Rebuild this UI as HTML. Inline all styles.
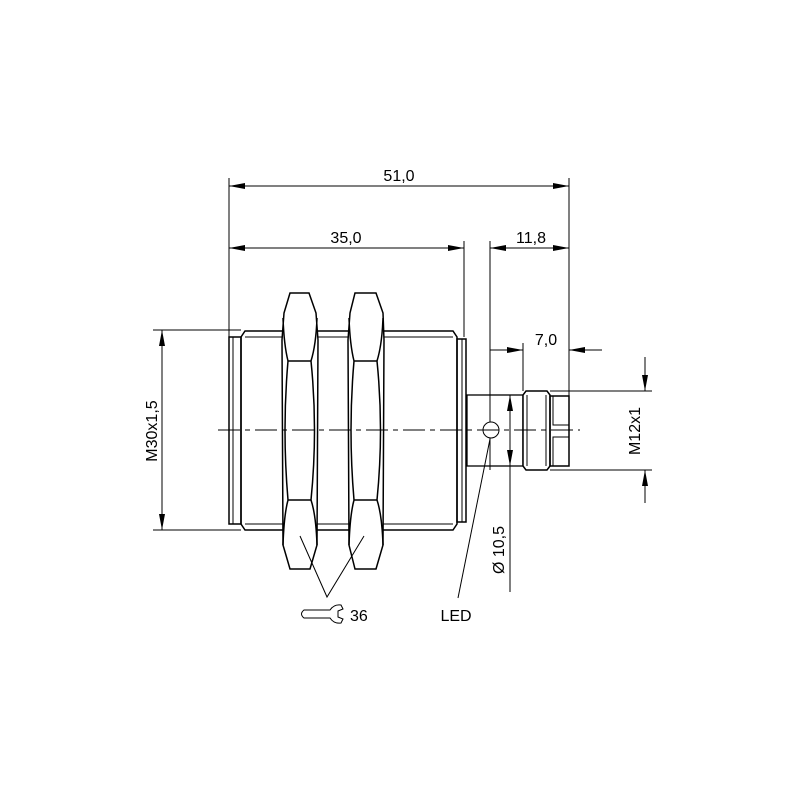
<!DOCTYPE html>
<html><head><meta charset="utf-8"><style>html,body{margin:0;padding:0;background:#fff}svg{display:block}</style></head>
<body>
<svg width="800" height="800" viewBox="0 0 800 800" xmlns="http://www.w3.org/2000/svg" font-family="Liberation Sans, sans-serif" font-size="16" fill="none" stroke="#000" stroke-width="1">
<defs>
<marker id="a" viewBox="0 0 16 6" refX="16" refY="3" markerWidth="16" markerHeight="6" markerUnits="userSpaceOnUse" orient="auto"><path d="M0,0 L16,3 L0,6z" fill="#000" stroke="none"/></marker>
<marker id="b" viewBox="0 0 16 6" refX="0" refY="3" markerWidth="16" markerHeight="6" markerUnits="userSpaceOnUse" orient="auto"><path d="M16,0 L0,3 L16,6z" fill="#000" stroke="none"/></marker>
</defs>
<line x1="229" y1="178" x2="229" y2="337"/>
<line x1="569" y1="178" x2="569" y2="396"/>
<line x1="464" y1="241" x2="464" y2="337"/>
<line x1="490" y1="241" x2="490" y2="470"/>
<line x1="523" y1="343" x2="523" y2="391"/>
<line x1="153" y1="330" x2="241" y2="330"/>
<line x1="153" y1="530" x2="241" y2="530"/>
<line x1="550" y1="391" x2="652" y2="391"/>
<line x1="550" y1="470" x2="652" y2="470"/>
<line x1="229" y1="186" x2="569" y2="186" marker-start="url(#b)" marker-end="url(#a)"/>
<text x="399" y="181" text-anchor="middle" fill="#000" stroke="none">51,0</text>
<line x1="229" y1="248" x2="464" y2="248" marker-start="url(#b)" marker-end="url(#a)"/>
<text x="346" y="243" text-anchor="middle" fill="#000" stroke="none">35,0</text>
<line x1="490" y1="248" x2="569" y2="248" marker-start="url(#b)" marker-end="url(#a)"/>
<text x="531" y="243" text-anchor="middle" fill="#000" stroke="none">11,8</text>
<line x1="490" y1="350" x2="523" y2="350" marker-end="url(#a)"/>
<line x1="602" y1="350" x2="569" y2="350" marker-end="url(#a)"/>
<text x="546" y="345" text-anchor="middle" fill="#000" stroke="none">7,0</text>
<line x1="162" y1="330" x2="162" y2="530" marker-start="url(#b)" marker-end="url(#a)"/>
<text transform="translate(157,431) rotate(-90)" text-anchor="middle" fill="#000" stroke="none">M30x1,5</text>
<line x1="645" y1="357" x2="645" y2="391" marker-end="url(#a)"/>
<line x1="645" y1="503" x2="645" y2="470" marker-end="url(#a)"/>
<text transform="translate(640,431) rotate(-90)" text-anchor="middle" fill="#000" stroke="none">M12x1</text>
<line x1="510" y1="592" x2="510" y2="395" marker-end="url(#a)"/>
<line x1="510" y1="430" x2="510" y2="466" marker-end="url(#a)"/>
<text transform="translate(504,550) rotate(-90)" text-anchor="middle" fill="#000" stroke="none">Ø 10,5</text>
<path d="M241,337 L245,331 L453,331 L457,337 L457,524 L453,530 L245,530 L241,524 Z" stroke-width="1.5"/>
<line x1="245" y1="337" x2="453" y2="337"/>
<line x1="245" y1="524" x2="453" y2="524"/>
<rect x="229" y="337" width="12" height="187" stroke-width="1.5"/>
<line x1="233" y1="337" x2="233" y2="524"/>
<rect x="457" y="339" width="9" height="183" stroke-width="1.5"/>
<line x1="462" y1="339" x2="462" y2="522"/>
<g stroke-width="1.5">
<path d="M290,293 L309,293 L316,313 L318,340 L317,545 L310,569 L290,569 L283,545 L282,340 L284,313 Z" fill="#fff"/>
<path d="M288,361 L311,361 M288,500 L311,500 M288,361 Q282,430 288,500 M311,361 Q318,430 311,500 M283,318 Q284,345 288,361 M317,318 Q316,345 311,361 M283,545 Q284,515 288,500 M317,545 Q316,515 311,500"/>
<path d="M355,293 L376,293 L383,313 L384,340 L383,545 L376,569 L355,569 L349,545 L348,340 L350,313 Z" fill="#fff"/>
<path d="M354,361 L377,361 M354,500 L377,500 M354,361 Q348,430 354,500 M377,361 Q384,430 377,500 M349,318 Q350,345 354,361 M383,318 Q382,345 377,361 M349,545 Q350,515 354,500 M383,545 Q382,515 377,500"/>
</g>
<rect x="467" y="395" width="56" height="71" stroke-width="1.3"/>
<circle cx="491" cy="430" r="8" fill="#fff"/>
<path d="M526,391 L547,391 L550,395 L550,466 L547,470 L526,470 L523,466 L523,395 Z" stroke-width="1.5" fill="#fff"/>
<line x1="527" y1="395" x2="527" y2="466"/>
<line x1="546" y1="395" x2="546" y2="466"/>
<rect x="550" y="396" width="19" height="70" stroke-width="1.5"/>
<path d="M553,396 L553,425 L569,425 M553,466 L553,437 L569,437"/>
<line x1="218" y1="430" x2="580" y2="430" stroke-dasharray="22,5,5,5"/>
<path d="M300,536 L327,597 L364,536"/>
<line x1="490" y1="439" x2="458" y2="598"/>
<text x="456" y="621" text-anchor="middle" fill="#000" stroke="none">LED</text>
<path d="M330,610 L304,610 Q299,614 304,618 L330,618 Q334,624 341,623 L343,619 L338,617 L338,611 L343,609 L341,605 Q334,604 330,610 Z"/>
<text x="350" y="621" fill="#000" stroke="none">36</text>
</svg>
</body></html>
